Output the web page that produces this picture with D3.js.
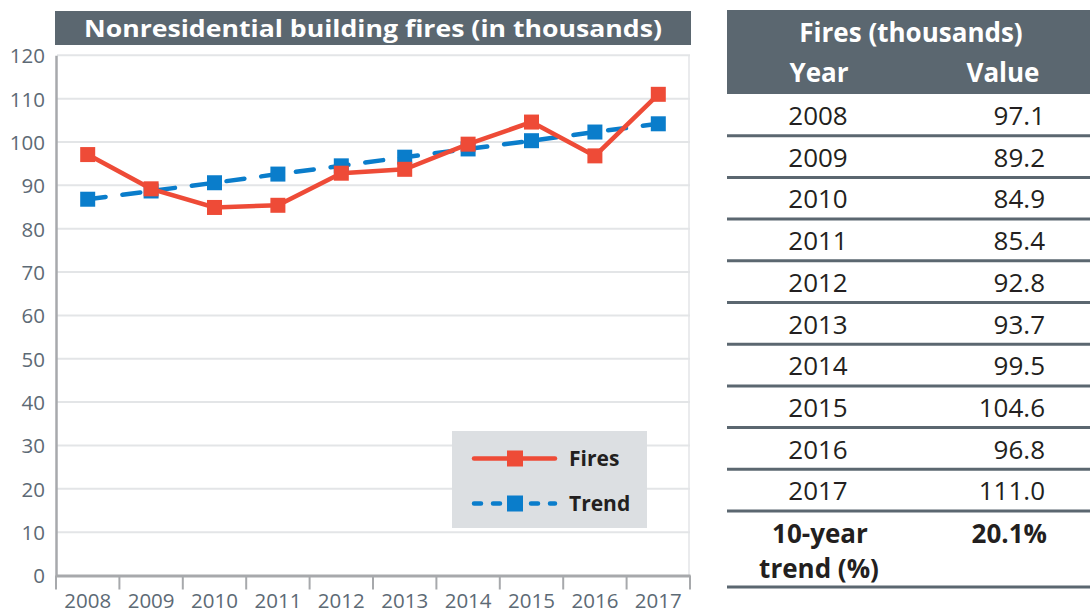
<!DOCTYPE html>
<html>
<head>
<meta charset="utf-8">
<script src="https://cdn.jsdelivr.net/npm/d3@7"></script>
<style>
  html, body { margin: 0; padding: 0; background: #ffffff; }
  svg { display: block; font-family: "Open Sans", "Noto Sans", sans-serif; }
</style>
</head>
<body>
<svg id="chart" width="1090" height="614"></svg>
<script>
// ---- data ----
const years = ["2008","2009","2010","2011","2012","2013","2014","2015","2016","2017"];
const fires = [97.1, 89.2, 84.9, 85.4, 92.8, 93.7, 99.5, 104.6, 96.8, 111.0];
const trend = [86.8, 88.7, 90.6, 92.6, 94.5, 96.5, 98.4, 100.3, 102.3, 104.2];
const tableValues = ["97.1","89.2","84.9","85.4","92.8","93.7","99.5","104.6","96.8","111.0"];
const yTicks = [0,10,20,30,40,50,60,70,80,90,100,110,120];
const chartTitle = "Nonresidential building fires (in thousands)";
const tableTitle = "Fires (thousands)";
const colHeaders = ["Year", "Value"];
const trendLabel = ["10-year", "trend (%)"];
const trendValue = "20.1%";
const seriesNames = ["Fires", "Trend"];

// ---- styles ----
const RED = "#ee4b37";
const BLUE = "#0a7dcb";
const SLATE = "#5b6770";
const AXIS = "#a7a9ac";
const GRID = "#e3e5e7";
const LABEL = "#5d6a75";

const svg = d3.select("#chart");

// ---- scales ----
const x = d3.scaleBand().domain(years).range([56, 690]).padding(0);
const y = d3.scaleLinear().domain([0, 120]).range([575.5, 55.3]);
const cx = d => x(d) + x.bandwidth() / 2;

// ---- title ----
svg.append("rect").attr("x", 55).attr("y", 11).attr("width", 636).attr("height", 34).attr("fill", SLATE);
svg.append("text").attr("x", 373).attr("y", 37).attr("text-anchor", "middle")
  .attr("fill", "#ffffff").attr("font-weight", 700).attr("font-size", 23.5)
  .attr("textLength", 578).attr("lengthAdjust", "spacingAndGlyphs")
  .text(chartTitle);

// ---- gridlines ----
svg.append("g").selectAll("line").data(yTicks.filter(t => t > 0)).join("line")
  .attr("x1", 57).attr("x2", 690).attr("y1", d => y(d)).attr("y2", d => y(d))
  .attr("stroke", GRID).attr("stroke-width", 2);
// right border
svg.append("line").attr("x1", 689).attr("x2", 689).attr("y1", y(120)).attr("y2", y(0))
  .attr("stroke", GRID).attr("stroke-width", 1.5);

// ---- y axis ----
const yAxis = svg.append("g").attr("transform", "translate(56,0)")
  .call(d3.axisLeft(y).tickValues(yTicks).tickSize(0).tickPadding(11));
yAxis.select(".domain").attr("stroke", AXIS).attr("stroke-width", 2.5);
yAxis.selectAll("text").attr("fill", LABEL).attr("font-size", 20.5)
  .attr("font-family", "'Open Sans', sans-serif").attr("dy", "0.36em");

// ---- x axis ----
const xAxis = svg.append("g").attr("transform", `translate(0,${y(0)})`)
  .call(d3.axisBottom(x).tickSize(0).tickPadding(20));
xAxis.select(".domain").attr("stroke", AXIS).attr("stroke-width", 3);
xAxis.selectAll("text").attr("fill", LABEL).attr("font-size", 20.5)
  .attr("font-family", "'Open Sans', sans-serif").attr("dy", "0.62em");
// boundary ticks
const bounds = years.map(d => x(d)).concat([x(years[years.length - 1]) + x.bandwidth()]);
svg.append("g").selectAll("line").data(bounds).join("line")
  .attr("x1", d => d).attr("x2", d => d).attr("y1", y(0)).attr("y2", y(0) + 14)
  .attr("stroke", AXIS).attr("stroke-width", 2);

// ---- series ----
const line = d3.line().x((d, i) => cx(years[i])).y(d => y(d));
const MS = 15;

svg.append("path").datum(trend).attr("d", line).attr("fill", "none")
  .attr("stroke", BLUE).attr("stroke-width", 4.5).attr("stroke-linecap", "round")
  .attr("stroke-dasharray", "18,17");
svg.append("g").selectAll("rect").data(trend).join("rect")
  .attr("x", (d, i) => cx(years[i]) - MS / 2).attr("y", d => y(d) - MS / 2)
  .attr("width", MS).attr("height", MS).attr("fill", BLUE);

svg.append("path").datum(fires).attr("d", line).attr("fill", "none")
  .attr("stroke", RED).attr("stroke-width", 4.5).attr("stroke-linejoin", "miter");
svg.append("g").selectAll("rect").data(fires).join("rect")
  .attr("x", (d, i) => cx(years[i]) - MS / 2).attr("y", d => y(d) - MS / 2)
  .attr("width", MS).attr("height", MS).attr("fill", RED);

// ---- legend ----
const lg = svg.append("g");
lg.append("rect").attr("x", 452).attr("y", 431).attr("width", 195).attr("height", 97).attr("fill", "#dcdfe2");
const legendRows = [
  { name: seriesNames[0], color: RED, dash: null, yy: 458.5 },
  { name: seriesNames[1], color: BLUE, dash: "7,12", yy: 503.5 }
];
legendRows.forEach(r => {
  const l = lg.append("line").attr("x1", 474).attr("x2", 555).attr("y1", r.yy).attr("y2", r.yy)
    .attr("stroke", r.color).attr("stroke-width", 4.5).attr("stroke-linecap", "round");
  if (r.dash) l.attr("stroke-dasharray", r.dash).attr("stroke-dashoffset", 0);
  lg.append("rect").attr("x", 515 - 8).attr("y", r.yy - 8).attr("width", 16).attr("height", 16).attr("fill", r.color);
  lg.append("text").attr("x", 569).attr("y", r.yy + 7.5).attr("fill", "#231f20")
    .attr("font-weight", 700).attr("font-size", 21).text(r.name);
});

// ---- table ----
const tX0 = 727, tX1 = 1090, yearCx = 818, valRight = 1045;
const rowTop = 94, rowH = 41.7;
const tg = svg.append("g");
tg.append("rect").attr("x", tX0).attr("y", 10).attr("width", tX1 - tX0).attr("height", rowTop - 10).attr("fill", SLATE);
tg.append("text").attr("x", 911).attr("y", 42).attr("text-anchor", "middle").attr("fill", "#fff")
  .attr("font-weight", 700).attr("font-size", 26).text(tableTitle);
tg.append("text").attr("x", 819).attr("y", 82).attr("text-anchor", "middle").attr("fill", "#fff")
  .attr("font-weight", 700).attr("font-size", 26).text(colHeaders[0]);
tg.append("text").attr("x", 1003).attr("y", 82).attr("text-anchor", "middle").attr("fill", "#fff")
  .attr("font-weight", 700).attr("font-size", 26).text(colHeaders[1]);

years.forEach((yr, i) => {
  const top = rowTop + i * rowH;
  tg.append("text").attr("x", yearCx).attr("y", top + 31).attr("text-anchor", "middle")
    .attr("fill", "#231f20").attr("font-size", 26).text(yr);
  tg.append("text").attr("x", valRight).attr("y", top + 31).attr("text-anchor", "end")
    .attr("fill", "#231f20").attr("font-size", 26).text(tableValues[i]);
  tg.append("line").attr("x1", tX0).attr("x2", tX1).attr("y1", top + rowH).attr("y2", top + rowH)
    .attr("stroke", SLATE).attr("stroke-width", 3);
});
const tTop = rowTop + years.length * rowH;
tg.append("text").attr("x", 820).attr("y", tTop + 32).attr("text-anchor", "middle")
  .attr("fill", "#231f20").attr("font-weight", 700).attr("font-size", 26).text(trendLabel[0]);
tg.append("text").attr("x", 819).attr("y", tTop + 67).attr("text-anchor", "middle")
  .attr("fill", "#231f20").attr("font-weight", 700).attr("font-size", 26).text(trendLabel[1]);
tg.append("text").attr("x", 1047).attr("y", tTop + 32).attr("text-anchor", "end")
  .attr("fill", "#231f20").attr("font-weight", 700).attr("font-size", 26).text(trendValue);
tg.append("line").attr("x1", tX0).attr("x2", tX1).attr("y1", 587).attr("y2", 587)
  .attr("stroke", SLATE).attr("stroke-width", 3);
</script>
</body>
</html>
